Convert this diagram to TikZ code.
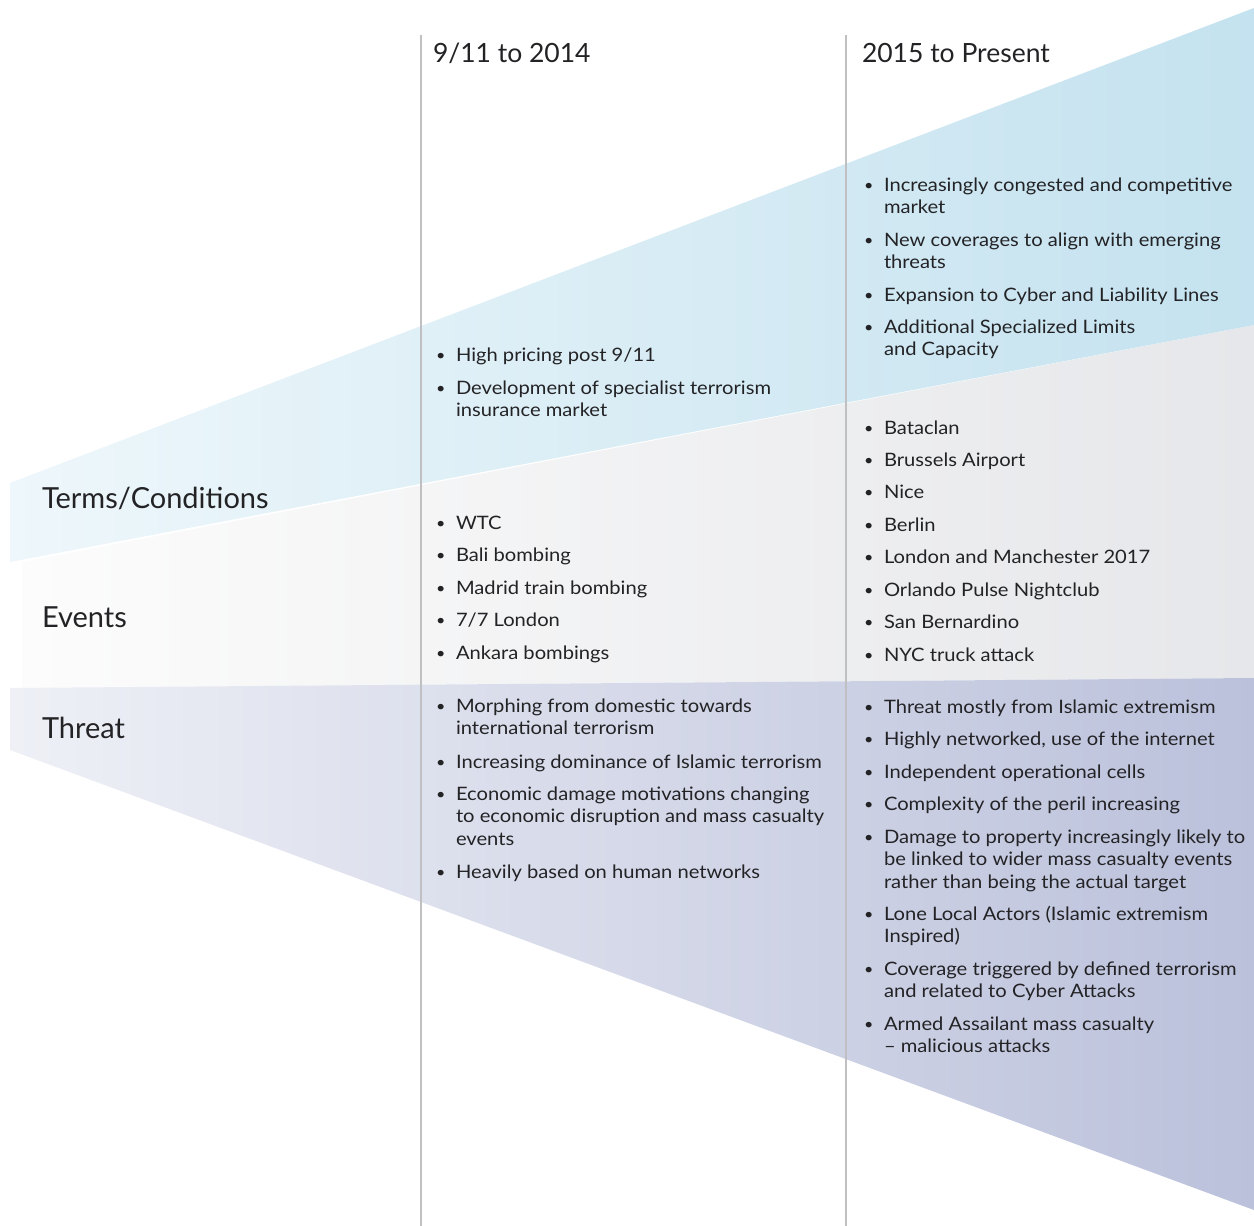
\documentclass[tikz,border=0pt]{standalone}
\usepackage{graphicx}
\usepackage{fontspec}
\setmainfont{Lato}
\newfontfamily\bodyfont[FakeStretch=1.09]{Lato}
\definecolor{txt}{RGB}{35,35,38}
\definecolor{blueL}{RGB}{238,247,251}
\definecolor{blueR}{RGB}{196,226,239}
\definecolor{grayL}{RGB}{252,252,252}
\definecolor{grayR}{RGB}{230,231,234}
\definecolor{purL}{RGB}{238,240,246}
\definecolor{purR}{RGB}{187,193,219}
\definecolor{vline}{RGB}{192,192,194}
\newcommand\itm[1]{\makebox[20pt][l]{\raisebox{1pt}{\scalebox{0.8}{•}}}\begin{tabular}[t]{@{}l@{}}#1\end{tabular}}
\tikzset{
  body/.style={anchor=base west, inner sep=0pt, outer sep=0pt, text=txt, font=\bodyfont\fontsize{18.5}{22.5}\selectfont},
  head/.style={anchor=base west, inner sep=0pt, outer sep=0pt, text=txt, font=\fontsize{26.5}{32}\selectfont},
  rowlbl/.style={anchor=base west, inner sep=0pt, outer sep=0pt, text=txt, font=\fontsize{29}{32}\selectfont},
  divider/.style={draw=vline, line width=1.6pt}
}
\begin{document}
\begin{tikzpicture}[x=1pt,y=-1pt]
\useasboundingbox (0,0) rectangle (1254,1226);
\fill[white] (0,0) rectangle (1254,1226);
% wedges
\shade[left color=grayL, right color=grayR] (22,562) -- (1254,325) -- (1254,678) -- (22,688) -- cycle;
\shade[left color=blueL, right color=blueR] (10,483) -- (1254,8) -- (1254,325) -- (10,562) -- cycle;
\shade[left color=purL, right color=purR] (10,688) -- (1254,678) -- (1254,1210) -- (10,750) -- cycle;
% dividers
\draw[divider] (421,35) -- (421,1226);
\draw[divider] (846,35) -- (846,1226);
% headers
\node[head] (h1) at (433,62) {9/11 to 2014};
\node[head] (h2) at (862,62) {2015 to Present};
% row labels
\node[rowlbl] (lterms) at (42,508) {Terms/Conditions};
\node[rowlbl] (levents) at (42,627) {Events};
\node[rowlbl] (lthreat) at (42,738) {Threat};
% left column
\node[body] (a1) at (436,361) {\itm{High pricing post 9/11}};
\node[body] (a2) at (436,394) {\itm{Development of specialist terrorism\\insurance market}};
\node[body] (b1) at (436,529) {\itm{WTC}};
\node[body] (b2) at (436,561) {\itm{Bali bombing}};
\node[body] (b3) at (436,594) {\itm{Madrid train bombing}};
\node[body] (b4) at (436,626) {\itm{7/7 London}};
\node[body] (b5) at (436,659) {\itm{Ankara bombings}};
\node[body] (c1) at (436,712) {\itm{Morphing from domestic towards\\international terrorism}};
\node[body] (c2) at (436,768) {\itm{Increasing dominance of Islamic terrorism}};
\node[body] (c3) at (436,800) {\itm{Economic damage motivations changing\\to economic disruption and mass casualty\\events}};
\node[body] (c4) at (436,878) {\itm{Heavily based on human networks}};
% right column
\node[body] (d1) at (864,191) {\itm{Increasingly congested and competitive\\market}};
\node[body] (d2) at (864,246) {\itm{New coverages to align with emerging\\threats}};
\node[body] (d3) at (864,301) {\itm{Expansion to Cyber and Liability Lines}};
\node[body] (d4) at (864,333) {\itm{Additional Specialized Limits\\and Capacity}};
\node[body] (e1) at (864,434) {\itm{Bataclan}};
\node[body] (e2) at (864,466) {\itm{Brussels Airport}};
\node[body] (e3) at (864,498) {\itm{Nice}};
\node[body] (e4) at (864,531) {\itm{Berlin}};
\node[body] (e5) at (864,563) {\itm{London and Manchester 2017}};
\node[body] (e6) at (864,596) {\itm{Orlando Pulse Nightclub}};
\node[body] (e7) at (864,628) {\itm{San Bernardino}};
\node[body] (e8) at (864,661) {\itm{NYC truck attack}};
\node[body] (f1) at (864,713) {\itm{Threat mostly from Islamic extremism}};
\node[body] (f2) at (864,745) {\itm{Highly networked, use of the internet}};
\node[body] (f3) at (864,778) {\itm{Independent operational cells}};
\node[body] (f4) at (864,810) {\itm{Complexity of the peril increasing}};
\node[body] (f5) at (864,843) {\itm{Damage to property increasingly likely to\\be linked to wider mass casualty events\\rather than being the actual target}};
\node[body] (f6) at (864,920) {\itm{Lone Local Actors (Islamic extremism\\Inspired)}};
\node[body] (f7) at (864,975) {\itm{Coverage triggered by defined terrorism\\and related to Cyber Attacks}};
\node[body] (f8) at (864,1030) {\itm{Armed Assailant mass casualty\\– malicious attacks}};
\end{tikzpicture}
\end{document}
